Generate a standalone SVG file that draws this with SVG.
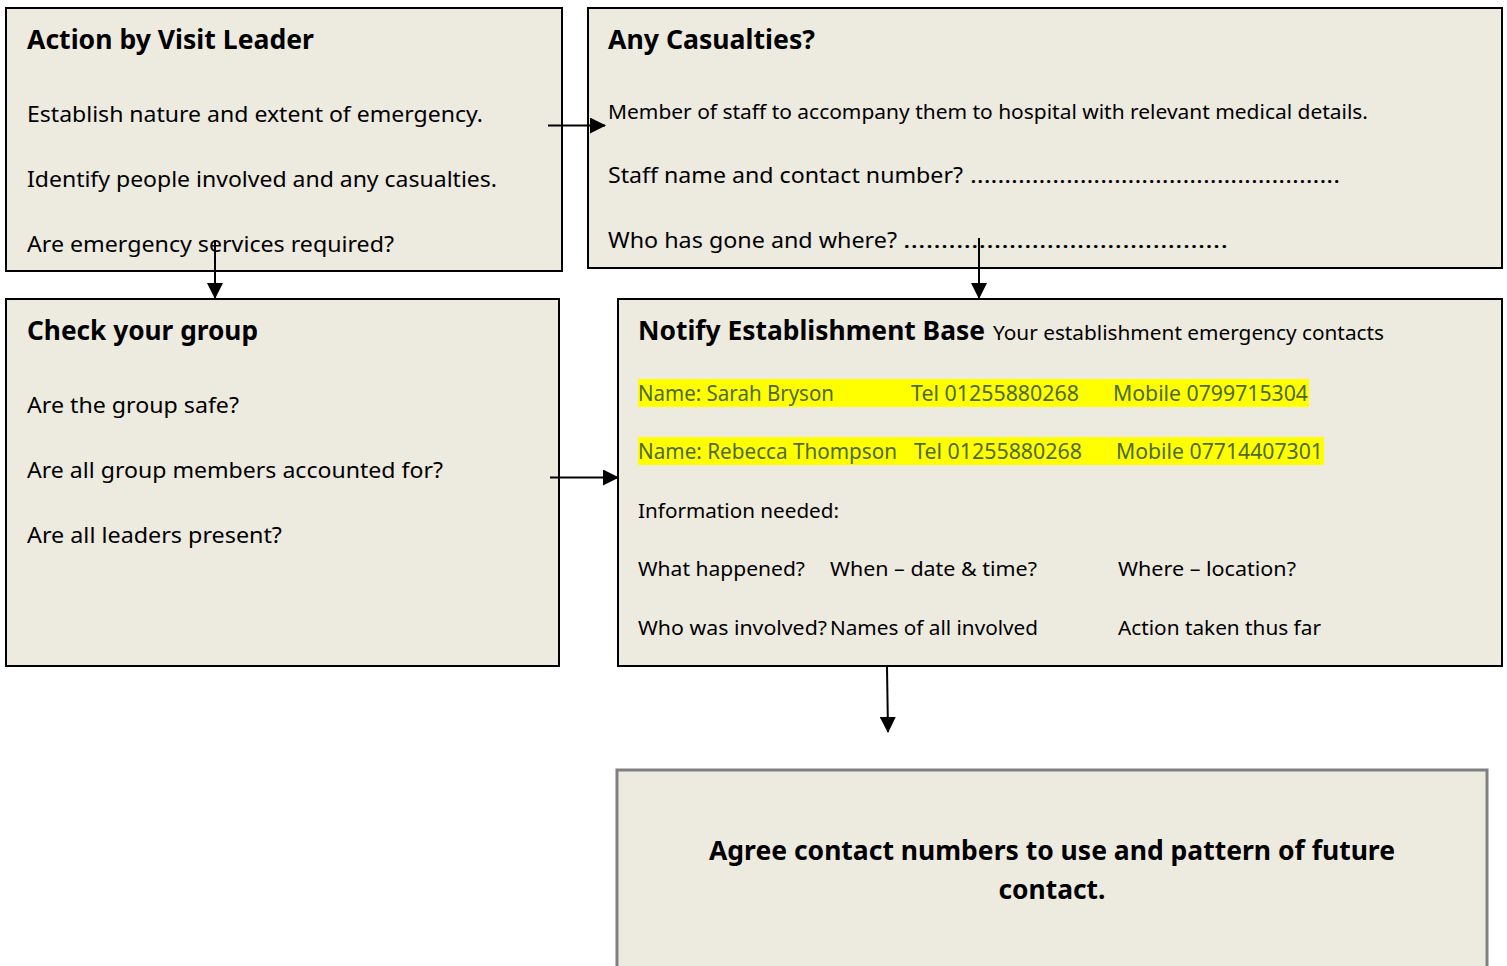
<svg xmlns="http://www.w3.org/2000/svg" width="1507" height="966" viewBox="0 0 1507 966">
<style>
.box{fill:#EDEAE0;stroke:#000;stroke-width:2}
.box5{fill:#EDEAE0;stroke:#808080;stroke-width:3}
text{font-family:"Noto Sans","Open Sans",sans-serif;fill:#000}
.t{font-weight:bold;font-size:27px}
.b{font-size:21px}
.s{font-size:19.5px}
.h{font-size:21px;fill:#4F6A28}
.hl{fill:#FFFF00}
.c{stroke:#000;stroke-width:2;fill:none}
</style>
<defs>
<marker id="ahL" markerWidth="16" markerHeight="16" refX="15" refY="8" orient="auto" markerUnits="userSpaceOnUse" viewBox="0 0 16 16">
<path d="M0,0 L16,8 L0,16 Z" fill="#000"/>
</marker>
</defs>
<rect width="1507" height="966" fill="#fff"/>
<g id="node-visit-leader">
<rect class="box" x="6" y="8" width="556" height="263"/>
<text class="t" x="27" y="49" textLength="287" lengthAdjust="spacingAndGlyphs">Action by Visit Leader</text>
<text class="b" x="27" y="122" textLength="456" lengthAdjust="spacingAndGlyphs">Establish nature and extent of emergency.</text>
<text class="b" x="27" y="187" textLength="470" lengthAdjust="spacingAndGlyphs">Identify people involved and any casualties.</text>
<text class="b" x="27" y="252" textLength="367" lengthAdjust="spacingAndGlyphs">Are emergency services required?</text>
</g>
<g id="node-casualties">
<rect class="box" x="588" y="8" width="914" height="260"/>
<text class="t" x="608" y="49" textLength="207" lengthAdjust="spacingAndGlyphs">Any Casualties?</text>
<text class="s" x="608" y="119" textLength="760" lengthAdjust="spacingAndGlyphs">Member of staff to accompany them to hospital with relevant medical details.</text>
<text class="b" x="608" y="183" textLength="355" lengthAdjust="spacingAndGlyphs">Staff name and contact number?</text>
<text class="b" x="970" y="183" textLength="370" lengthAdjust="spacingAndGlyphs">......................................................</text>
<text class="b" x="608" y="248" textLength="289" lengthAdjust="spacingAndGlyphs">Who has gone and where?</text>
<text class="b" x="903" y="248" textLength="325" lengthAdjust="spacingAndGlyphs">...........................................</text>
</g>
<g id="node-check-group">
<rect class="box" x="6" y="299" width="553" height="367"/>
<text class="t" x="27" y="340" textLength="231" lengthAdjust="spacingAndGlyphs">Check your group</text>
<text class="b" x="27" y="413" textLength="212" lengthAdjust="spacingAndGlyphs">Are the group safe?</text>
<text class="b" x="27" y="478" textLength="416" lengthAdjust="spacingAndGlyphs">Are all group members accounted for?</text>
<text class="b" x="27" y="543" textLength="255" lengthAdjust="spacingAndGlyphs">Are all leaders present?</text>
</g>
<g id="node-notify">
<rect class="box" x="618" y="299" width="884" height="367"/>
<text class="t" x="638" y="340" textLength="347" lengthAdjust="spacingAndGlyphs">Notify Establishment Base</text>
<text class="s" x="993" y="340" textLength="391" lengthAdjust="spacingAndGlyphs">Your establishment emergency contacts</text>
<rect class="hl" x="638" y="379" width="671" height="28"/>
<text class="h" x="638" y="401" textLength="196" lengthAdjust="spacingAndGlyphs">Name: Sarah Bryson</text>
<text class="h" x="911" y="401" textLength="168" lengthAdjust="spacingAndGlyphs">Tel 01255880268</text>
<text class="h" x="1113" y="401" textLength="195" lengthAdjust="spacingAndGlyphs">Mobile 0799715304</text>
<rect class="hl" x="638" y="437" width="686" height="28"/>
<text class="h" x="638" y="459" textLength="259" lengthAdjust="spacingAndGlyphs">Name: Rebecca Thompson</text>
<text class="h" x="914" y="459" textLength="168" lengthAdjust="spacingAndGlyphs">Tel 01255880268</text>
<text class="h" x="1116" y="459" textLength="207" lengthAdjust="spacingAndGlyphs">Mobile 07714407301</text>
<text class="s" x="638" y="518" textLength="201" lengthAdjust="spacingAndGlyphs">Information needed:</text>
<text class="s" x="638" y="576" textLength="167" lengthAdjust="spacingAndGlyphs">What happened?</text>
<text class="s" x="830" y="576" textLength="207" lengthAdjust="spacingAndGlyphs">When – date &amp; time?</text>
<text class="s" x="1118" y="576" textLength="178" lengthAdjust="spacingAndGlyphs">Where – location?</text>
<text class="s" x="638" y="635" textLength="189" lengthAdjust="spacingAndGlyphs">Who was involved?</text>
<text class="s" x="830" y="635" textLength="208" lengthAdjust="spacingAndGlyphs">Names of all involved</text>
<text class="s" x="1118" y="635" textLength="203" lengthAdjust="spacingAndGlyphs">Action taken thus far</text>
</g>
<g id="node-agree">
<rect class="box5" x="617" y="770" width="870" height="200"/>
<text class="t" x="1052" y="860" text-anchor="middle" textLength="686" lengthAdjust="spacingAndGlyphs">Agree contact numbers to use and pattern of future</text>
<text class="t" x="1052" y="899" text-anchor="middle" textLength="107" lengthAdjust="spacingAndGlyphs">contact.</text>
</g>
<g id="connectors">
<line class="c" x1="548" y1="125.5" x2="605" y2="125.5" marker-end="url(#ahL)"/>
<line class="c" x1="215" y1="240" x2="215" y2="298" marker-end="url(#ahL)"/>
<line class="c" x1="979" y1="238" x2="979" y2="298" marker-end="url(#ahL)"/>
<line class="c" x1="550" y1="477.5" x2="618" y2="477.5" marker-end="url(#ahL)"/>
<line class="c" x1="887" y1="667" x2="888" y2="732" marker-end="url(#ahL)"/>
</g>
</svg>
